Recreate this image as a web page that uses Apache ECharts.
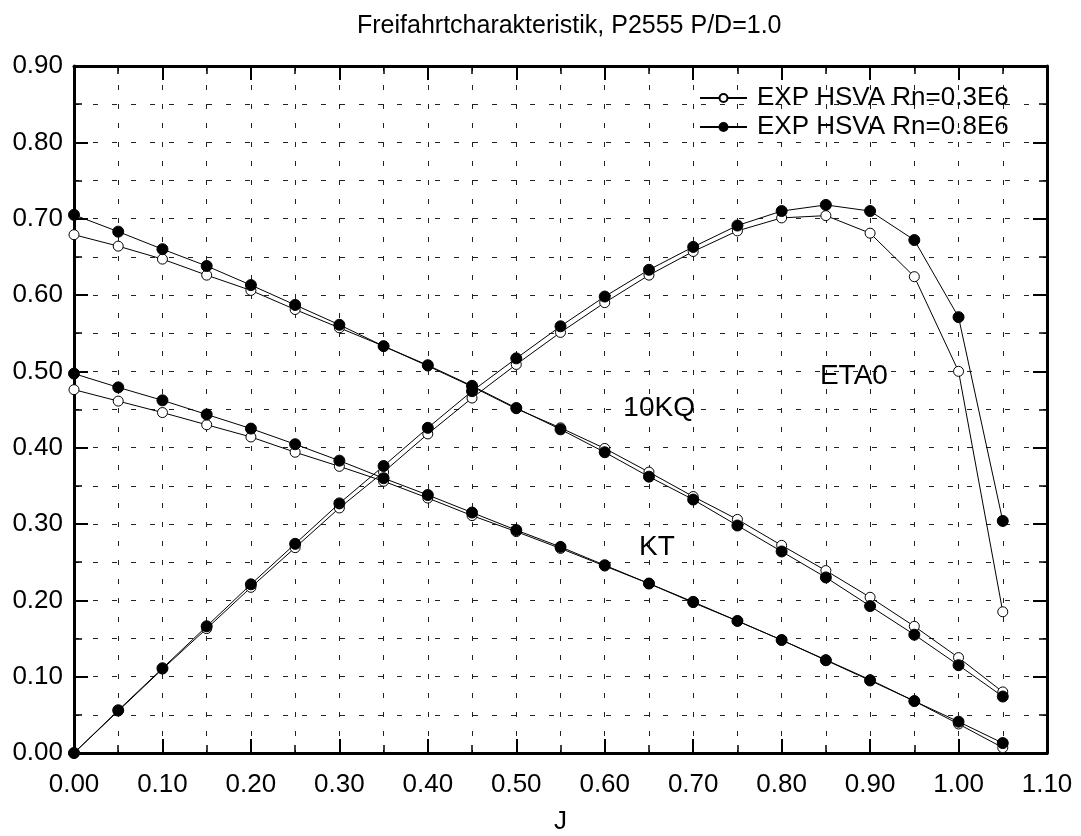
<!DOCTYPE html>
<html>
<head>
<meta charset="utf-8">
<script src="https://cdn.jsdelivr.net/npm/echarts@6/dist/echarts.min.js"></script>
<style>
html,body{margin:0;padding:0;background:#fff;}
#chart{width:1081px;height:836px;}
</style>
</head>
<body>
<div id="chart"></div>
<script>
var J = [0, 0.05, 0.10, 0.15, 0.20, 0.25, 0.30, 0.35, 0.40, 0.45, 0.50, 0.55, 0.60, 0.65, 0.70, 0.75, 0.80, 0.85, 0.90, 0.95, 1.00, 1.05];

var KT_low  = [0.476, 0.461, 0.446, 0.430, 0.414, 0.394, 0.3755, 0.356, 0.334, 0.311, 0.290, 0.268, 0.245, 0.222, 0.197, 0.173, 0.148, 0.122, 0.096, 0.068, 0.038, 0.007];
var KT_high = [0.497, 0.479, 0.462, 0.4435, 0.425, 0.4045, 0.383, 0.360, 0.338, 0.315, 0.292, 0.270, 0.246, 0.222, 0.198, 0.173, 0.148, 0.1215, 0.095, 0.068, 0.041, 0.013];

var KQ10_low  = [0.679, 0.664, 0.647, 0.626, 0.606, 0.581, 0.557, 0.533, 0.507, 0.480, 0.451, 0.426, 0.399, 0.368, 0.336, 0.306, 0.272, 0.239, 0.204, 0.166, 0.125, 0.080];
var KQ10_high = [0.705, 0.683, 0.660, 0.638, 0.613, 0.587, 0.561, 0.533, 0.508, 0.481, 0.452, 0.424, 0.394, 0.362, 0.332, 0.298, 0.264, 0.230, 0.1925, 0.155, 0.115, 0.074];

var ETA_low  = [0, 0.055, 0.110, 0.163, 0.217, 0.269, 0.321, 0.368, 0.418, 0.465, 0.509, 0.551, 0.590, 0.626, 0.657, 0.684, 0.701, 0.704, 0.681, 0.624, 0.500, 0.185];
var ETA_high = [0, 0.056, 0.111, 0.166, 0.221, 0.274, 0.327, 0.376, 0.426, 0.474, 0.517, 0.559, 0.598, 0.633, 0.663, 0.691, 0.710, 0.718, 0.710, 0.672, 0.571, 0.304];

var curveLabels = ['10KQ', 'ETA0', 'KT'];
var curveLabelJ = [0.6615, 0.8817, 0.659];
var curveLabelV = [0.451, 0.494, 0.270];

var nameLow = 'EXP HSVA Rn=0.3E6';
var nameHigh = 'EXP HSVA Rn=0.8E6';
var titleText = 'Freifahrtcharakteristik, P2555 P/D=1.0';

var FONT = "'Liberation Sans', Arial, sans-serif";

function pairs(ys) { return J.map(function (j, i) { return [j, ys[i]]; }); }

function openSeries(ys) {
  return {
    name: nameLow, type: 'line', data: pairs(ys), symbol: 'circle', symbolSize: 10,
    itemStyle: { color: '#fff', borderColor: '#000', borderWidth: 1 },
    lineStyle: { color: '#000', width: 1 }, z: 3, animation: false
  };
}
function filledSeries(ys) {
  return {
    name: nameHigh, type: 'line', data: pairs(ys), symbol: 'circle', symbolSize: 11,
    itemStyle: { color: '#000', borderColor: '#000', borderWidth: 1 },
    lineStyle: { color: '#000', width: 1 }, z: 4, animation: false
  };
}

var gridLine = { show: true, lineStyle: { color: '#222', width: 1, type: [5, 14] } };

function valueAxisBase(max, extra) {
  var a = {
    type: 'value', min: 0, max: max, interval: 0.1,
    axisLine: { show: true, onZero: false, lineStyle: { color: '#000', width: 3 } },
    axisTick: { show: true, inside: true, length: 14, lineStyle: { color: '#000', width: 2 } },
    minorTick: { show: true, splitNumber: 2, length: 8, lineStyle: { color: '#000', width: 1.5 } },
    splitLine: { show: false },
    minorSplitLine: { show: false }
  };
  for (var k in extra) a[k] = extra[k];
  return a;
}

var labels = curveLabels.map(function (t, i) { return [curveLabelJ[i], curveLabelV[i], t]; });

var option = {
  backgroundColor: '#fff',
  animation: false,
  title: {
    text: titleText, left: 352, top: 9,
    textStyle: { fontFamily: FONT, fontSize: 25, fontWeight: 'normal', color: '#000' }
  },
  legend: {
    orient: 'vertical', left: 694, top: 80,
    itemWidth: 47, itemHeight: 10, itemGap: 3,
    data: [nameLow, nameHigh],
    textStyle: { fontFamily: FONT, fontSize: 26, color: '#000', padding: [0, 0, 0, 5], lineHeight: 26 }
  },
  grid: { left: 74, right: 34, top: 66, bottom: 83, outerBoundsMode: 'none', containLabel: false },
  xAxis: [
    valueAxisBase(1.1, {
      position: 'bottom',
      name: 'J', nameLocation: 'middle', nameGap: 56,
      nameTextStyle: { fontFamily: FONT, fontSize: 26, color: '#000' },
      axisLabel: { fontFamily: FONT, fontSize: 26, color: '#000', margin: 19,
        formatter: function (v) { return v.toFixed(2); } },
      splitLine: gridLine, minorSplitLine: gridLine
    }),
    valueAxisBase(1.1, { position: 'top', axisLabel: { show: false } })
  ],
  yAxis: [
    valueAxisBase(0.9, {
      position: 'left',
      axisLabel: { fontFamily: FONT, fontSize: 26, color: '#000', margin: 11,
        formatter: function (v) { return v.toFixed(2); } },
      splitLine: gridLine, minorSplitLine: gridLine
    }),
    valueAxisBase(0.9, { position: 'right', axisLabel: { show: false } })
  ],
  series: [
    openSeries(KQ10_low), openSeries(KT_low), openSeries(ETA_low),
    filledSeries(KQ10_high), filledSeries(KT_high), filledSeries(ETA_high),
    {
      type: 'scatter', data: labels, symbolSize: 0, silent: true, z: 5,
      itemStyle: { opacity: 1, color: '#000' },
      label: { show: true, position: 'inside', fontFamily: FONT, fontSize: 28, color: '#000',
        opacity: 1, textBorderWidth: 0, textShadowBlur: 0,
        formatter: function (p) { return p.data[2]; } }
    }
  ]
};

var chart = echarts.init(document.getElementById('chart'), null, { renderer: 'canvas' });
chart.setOption(option);
</script>
</body>
</html>
